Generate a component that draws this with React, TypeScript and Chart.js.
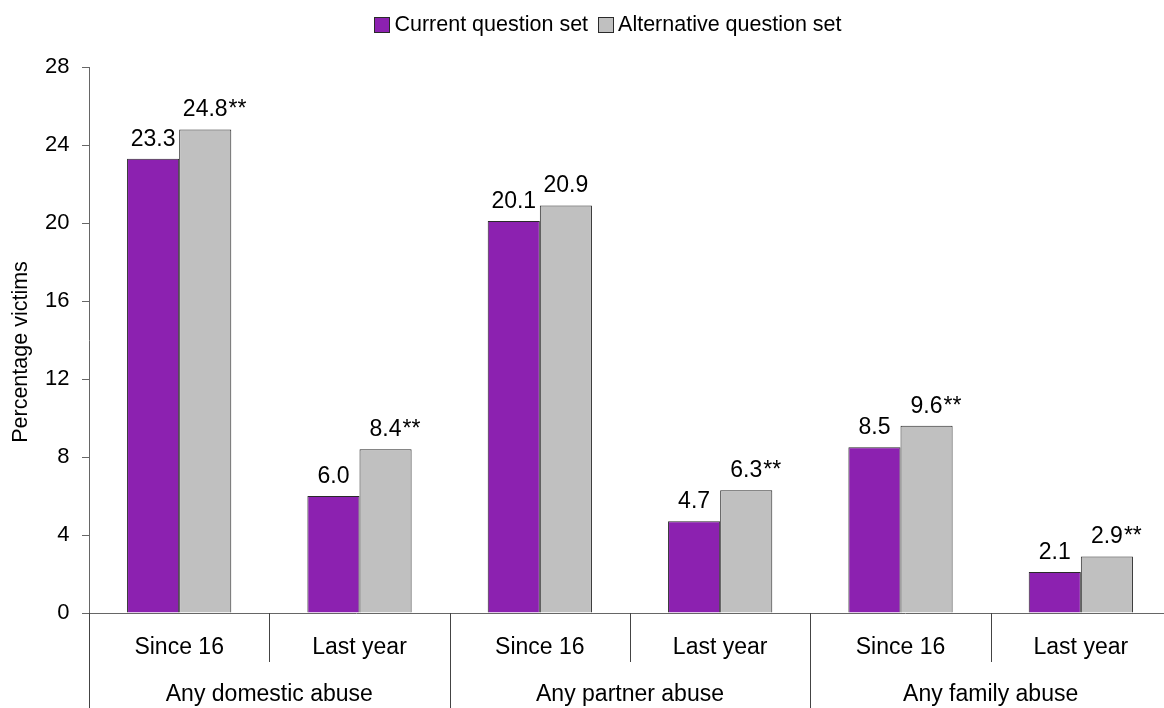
import React, { useEffect, useRef } from "react";
import { Chart, registerables } from "chart.js";

Chart.register(...registerables);

const subCategories = ["Since 16", "Last year", "Since 16", "Last year", "Since 16", "Last year"];
const groups = ["Any domestic abuse", "Any partner abuse", "Any family abuse"];
const seriesNames = ["Current question set", "Alternative question set"];
const currentValues = [23.3, 6.0, 20.1, 4.7, 8.5, 2.1];
const alternativeValues = [24.8, 8.4, 20.9, 6.3, 9.6, 2.9];
const alternativeSignificant = [true, true, false, true, true, true];
const currentSignificant = [false, false, false, false, false, false];
const yAxisTitle = "Percentage victims";
const yMin = 0;
const yMax = 28;
const yStep = 4;

const FONT = "'Liberation Sans', Arial, sans-serif";
const PURPLE = "#8C21B0";
const GREY = "#C0C0C0";
const BORDER = "#2a2a2a";
const AXIS = "#666666";

const W = 1180;
const H = 708;

const overlay = {
  id: "overlay",
  afterDraw(chart: any) {
    const ctx = chart.ctx as CanvasRenderingContext2D;
    const area = chart.chartArea;
    const n = subCategories.length;
    const catW = (area.right - area.left) / n;
    ctx.save();

    // x axis line
    ctx.strokeStyle = AXIS;
    ctx.lineWidth = 1;
    ctx.beginPath();
    ctx.moveTo(area.left - 7, Math.round(area.bottom) + 0.5);
    ctx.lineTo(chart.width, Math.round(area.bottom) + 0.5);
    ctx.stroke();

    // separators
    ctx.strokeStyle = "#444444";
    for (let i = 0; i <= n; i++) {
      const x = Math.round(area.left + i * catW) + 0.5;
      const yEnd = i % 2 === 0 ? chart.height : area.bottom + 49;
      ctx.beginPath();
      ctx.moveTo(x, area.bottom);
      ctx.lineTo(x, yEnd);
      ctx.stroke();
    }

    // category labels
    ctx.fillStyle = "#000";
    ctx.font = `23px ${FONT}`;
    ctx.textAlign = "center";
    ctx.textBaseline = "middle";
    subCategories.forEach((c, i) => {
      ctx.fillText(c, area.left + (i + 0.5) * catW, area.bottom + 35);
    });
    groups.forEach((g, i) => {
      ctx.fillText(g, area.left + (i * 2 + 1) * catW, area.bottom + 82);
    });

    // data labels
    const sig = [currentSignificant, alternativeSignificant];
    chart.data.datasets.forEach((ds: any, d: number) => {
      const meta = chart.getDatasetMeta(d);
      meta.data.forEach((bar: any, i: number) => {
        const v = ds.data[i] as number;
        const txt = v.toFixed(1);
        ctx.font = `23px ${FONT}`;
        ctx.textAlign = "center";
        ctx.textBaseline = "alphabetic";
        const y = bar.y - 13;
        ctx.fillText(txt, bar.x, y);
        if (sig[d][i]) {
          const w = ctx.measureText(txt).width;
          ctx.textAlign = "left";
          ctx.fillText("**", bar.x + w / 2 + 1, y);
        }
      });
    });

    // y title
    ctx.save();
    ctx.translate(21, 352);
    ctx.rotate(-Math.PI / 2);
    ctx.font = `21.5px ${FONT}`;
    ctx.textAlign = "center";
    ctx.textBaseline = "middle";
    ctx.fillText(yAxisTitle, 0, 0);
    ctx.restore();

    // legend
    ctx.font = `21.5px ${FONT}`;
    ctx.textAlign = "left";
    ctx.textBaseline = "middle";
    const box = 15;
    const gapBoxText = 5;
    const gapItems = 10;
    const colors = [PURPLE, GREY];
    const widths = seriesNames.map((s) => ctx.measureText(s).width);
    const total = widths.reduce((a, w) => a + box + gapBoxText + w, 0) + gapItems;
    let x = 608 - total / 2;
    const cy = 24.5;
    seriesNames.forEach((s, i) => {
      ctx.fillStyle = colors[i];
      ctx.fillRect(x, cy - box / 2, box, box);
      ctx.strokeStyle = BORDER;
      ctx.lineWidth = 1;
      ctx.strokeRect(Math.round(x) + 0.5, Math.round(cy - box / 2) + 0.5, box, box);
      ctx.fillStyle = "#000";
      ctx.fillText(s, x + box + gapBoxText, cy + 1);
      x += box + gapBoxText + widths[i] + gapItems;
    });

    ctx.restore();
  },
};

export default function App() {
  const ref = useRef<HTMLCanvasElement | null>(null);
  useEffect(() => {
    if (!ref.current) return;
    Chart.defaults.font.family = FONT;
    const chart = new Chart(ref.current, {
      type: "bar",
      data: {
        labels: subCategories,
        datasets: [
          {
            label: seriesNames[0],
            data: currentValues,
            backgroundColor: PURPLE,
            borderColor: BORDER,
            borderWidth: 1,
            barPercentage: 1,
            categoryPercentage: 0.578,
          },
          {
            label: seriesNames[1],
            data: alternativeValues,
            backgroundColor: GREY,
            borderColor: BORDER,
            borderWidth: 1,
            barPercentage: 1,
            categoryPercentage: 0.578,
          },
        ],
      },
      options: {
        responsive: false,
        animation: false,
        layout: { padding: { top: 67, bottom: 95, left: 0, right: 9 } },
        plugins: { legend: { display: false }, tooltip: { enabled: false } },
        scales: {
          x: { display: false },
          y: {
            min: yMin,
            max: yMax,
            ticks: { stepSize: yStep, color: "#000", font: { size: 22, family: FONT }, padding: 12.5 },
            grid: { drawOnChartArea: false, tickLength: 7, color: AXIS },
            border: { color: AXIS },
            afterFit: (scale: any) => {
              scale.width = 89;
            },
          },
        },
      },
      plugins: [overlay],
    });
    return () => chart.destroy();
  }, []);
  return (
    <div style={{ position: "fixed", left: 0, top: 0, width: 1164, height: 708, overflow: "hidden", background: "#fff" }}>
      <canvas ref={ref} width={W} height={H} style={{ display: "block", width: W, height: H }} />
    </div>
  );
}
